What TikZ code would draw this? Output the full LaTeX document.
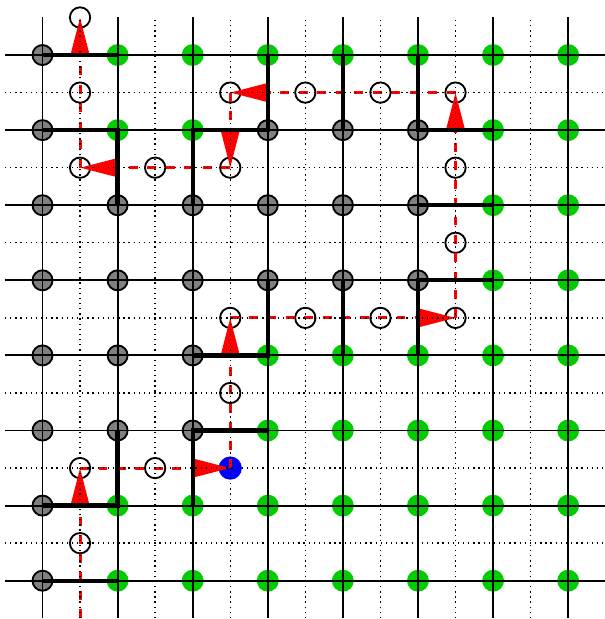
\documentclass[tikz,border=0pt]{standalone}
\usepackage{tikz}
\usetikzlibrary{positioning,arrows.meta}
\definecolor{sitegreen}{RGB}{0,204,0}

\begin{document}
\begin{tikzpicture}[
    sitek/.style={circle, draw=black, fill=gray, line width=0.7pt,
                  inner sep=0pt, minimum size=7.6pt},
    siteg/.style={circle, fill=sitegreen, inner sep=0pt, minimum size=8.3pt},
    link/.style={circle, draw=black, line width=0.7pt, inner sep=0pt,
                 minimum size=7.7pt},
    hole/.style={circle, fill=blue, inner sep=0pt, minimum size=8.8pt},
    gridline/.style={black, line width=0.7pt},
    halfline/.style={black, line width=0.5pt, dash pattern=on 0.5pt off 1.45pt},
    bond/.style={black, line width=1.6pt},
    strline/.style={red, line width=1.1pt, dash pattern=on 3.4pt off 3.6pt,
                    -{Triangle[length=4.9mm, width=2.4mm]}}
]
    \useasboundingbox (-0.566,-0.51) rectangle (7.49,7.733);
    \foreach \row [count=\j from 0] in {
        {k,g,g,g,g,g,g,g},
        {k,g,g,k,k,k,g,g},
        {k,k,k,k,k,k,g,g},
        {k,k,k,k,k,k,g,g},
        {k,k,k,g,g,g,g,g},
        {k,k,k,g,g,g,g,g},
        {k,g,g,g,g,g,g,g},
        {k,g,g,g,g,g,g,g}}
      \foreach \c [count=\i from 0] in \row
        \node[site\c] (v\i\j) at (\i,7-\j) {};

    \coordinate (p0) at (0.5,-0.5);
    \foreach \n/\x/\y in {1/0.5/0.5, 2/0.5/1.5, 3/1.5/1.5, 5/2.5/2.5,
        6/2.5/3.5, 7/3.5/3.5, 8/4.5/3.5, 9/5.5/3.5, 10/5.5/4.5, 11/5.5/5.5,
        12/5.5/6.5, 13/4.5/6.5, 14/3.5/6.5, 15/2.5/6.5, 16/2.5/5.5,
        17/1.5/5.5, 18/0.5/5.5, 19/0.5/6.5, 20/0.5/7.5}
      \node[link] (p\n) at (\x,\y) {};
    \node[hole] (p4) at (2.5,1.5) {};

    \foreach \a/\b in {p0/p2, p2/p4, p4/p6, p6/p9, p9/p12, p12/p15,
        p15/p16, p16/p18, p18/p20}
      \draw[strline] (\a.center) -- (\b.center);

    \foreach \k in {0,...,7} {
      \draw[gridline] (-0.5,\k) -- (7.5,\k);
      \draw[gridline] (\k,-0.5) -- (\k,7.5);
    }
    \foreach \k in {0.5,1.5,...,6.5} {
      \draw[halfline] (-0.5,\k) -- (7.5,\k);
      \draw[halfline] (\k,-0.5) -- (\k,7.5);
    }

    \draw[bond] (v00.center) -- (v10.center);
    \draw[bond] (v01.center) -- (v11.center) -- (v12.center);
    \draw[bond] (v22.center) -- (v21.center) -- (v31.center) -- (v30.center);
    \draw[bond] (v40.center) -- (v41.center);
    \draw[bond] (v50.center) -- (v51.center) -- (v61.center);
    \draw[bond] (v52.center) -- (v62.center);
    \draw[bond] (v63.center) -- (v53.center) -- (v54.center);
    \draw[bond] (v43.center) -- (v44.center);
    \draw[bond] (v24.center) -- (v34.center) -- (v33.center);
    \draw[bond] (v35.center) -- (v25.center) -- (v26.center);
    \draw[bond] (v15.center) -- (v16.center) -- (v06.center);
    \draw[bond] (v07.center) -- (v17.center);
\end{tikzpicture}
\end{document}
